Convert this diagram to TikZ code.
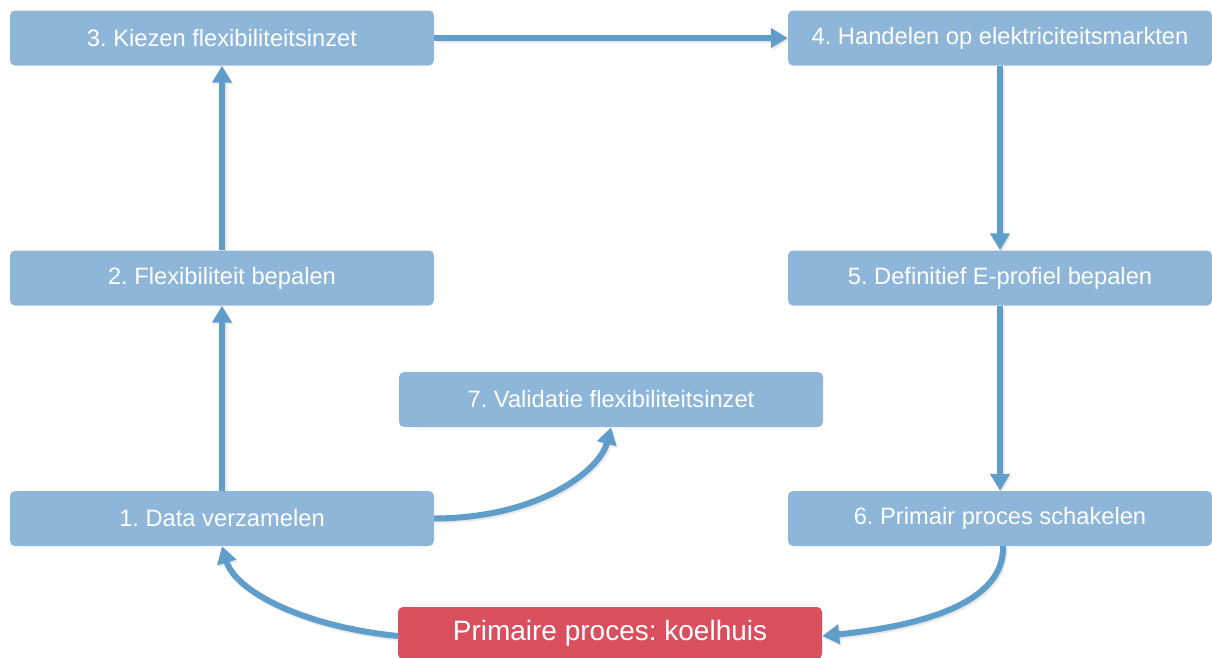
\documentclass[tikz,border=0pt]{standalone}
\usepackage{fontspec}
\setmainfont{Liberation Sans}
\usetikzlibrary{arrows.meta}
\definecolor{boxblue}{HTML}{8DB6D8}
\definecolor{arrowblue}{HTML}{5F9DCB}
\definecolor{procred}{HTML}{D94F5E}
\tikzset{
  stepbox/.style={fill=boxblue, rounded corners=5pt, text=white, font=\fontsize{23.7}{27}\selectfont,
    minimum width=424pt, minimum height=55pt, inner sep=0pt},
  procbox/.style={fill=procred, rounded corners=5pt, text=white, font=\fontsize{28}{32}\selectfont,
    minimum width=424pt, minimum height=52pt, inner sep=0pt},
  flowtip/.style={-{Triangle[length=17pt,width=19pt]}},
  flow/.style={flowtip, draw=arrowblue, line width=6pt,
    preaction={draw=black!35, opacity=0.25, line width=6pt, transform canvas={shift={(1.5pt,-2pt)}}}},
}
\begin{document}
\frenchspacing
\begin{tikzpicture}[x=1pt,y=-1pt]
\useasboundingbox (0,0) rectangle (1212,657);
\node[stepbox] (s3) at (222,38) {3. Kiezen flexibiliteitsinzet};
\node[stepbox] (s4) at (1000,38) {4. Handelen op elektriciteitsmarkten};
\node[stepbox] (s2) at (222,278) {2. Flexibiliteit bepalen};
\node[stepbox] (s5) at (1000,278) {5. Definitief E-profiel bepalen};
\node[stepbox] (s7) at (611,399.5) {7. Validatie flexibiliteitsinzet};
\node[stepbox] (s1) at (222,518.5) {1. Data verzamelen};
\node[stepbox] (s6) at (1000,518.5) {6. Primair proces schakelen};
\node[procbox] (p) at (610,633) {Primaire proces: koelhuis};

\draw[flow] (s1.north) -- (s2.south);
\draw[flow] (s2.north) -- (s3.south);
\draw[flow] (s3.east) -- (s4.west);
\draw[flow] (s4.south) -- (s5.north);
\draw[flow] (s5.south) -- (s6.north);
\draw[flow] ([xshift=3pt]s6.south) .. controls (1005,610) and (900,628) .. ([yshift=-3pt]p.east);
\draw[flow] ([yshift=-3pt]p.west) .. controls (300,626) and (235,590) .. (s1.south);
\draw[flow] (s1.east) .. controls (540,518) and (600,470) .. (s7.south);
\end{tikzpicture}
\end{document}
